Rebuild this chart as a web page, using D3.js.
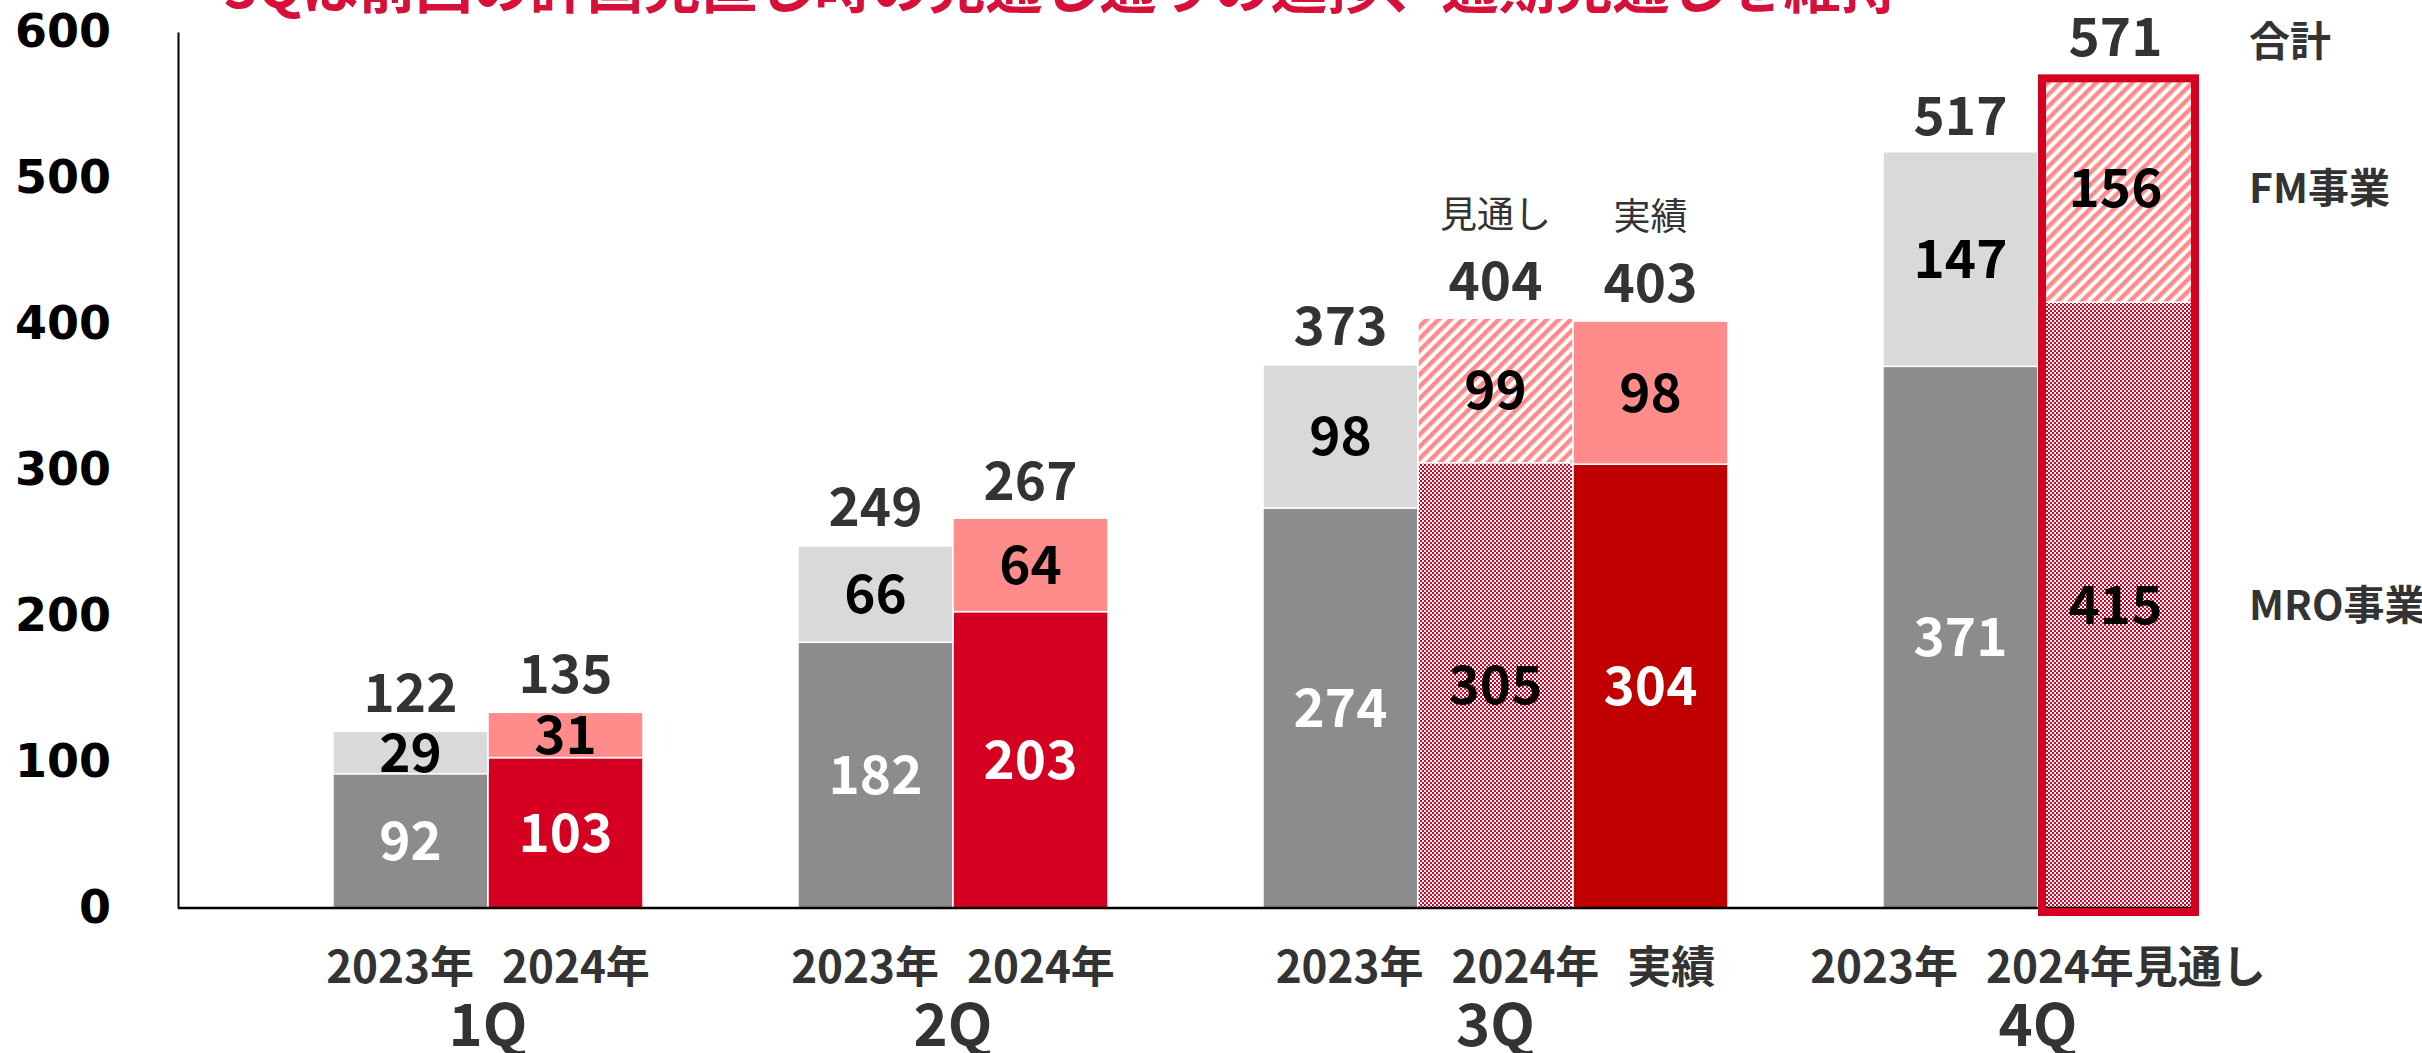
<!DOCTYPE html>
<html>
<head>
<meta charset="utf-8">
<script src="https://cdn.jsdelivr.net/npm/d3@7"></script>
<style>
	body { margin: 0; background: #fff; }
	svg { display: block; }
</style>
</head>
<body>
<svg id="chart"></svg>
<script>
'use strict'

// data
var quarters = ["1Q", "2Q", "3Q", "4Q"];
var barQuarter = ["1Q", "1Q", "2Q", "2Q", "3Q", "3Q", "3Q", "4Q", "4Q"];
var barNames = ["2023年", "2024年", "2023年", "2024年", "2023年", "2024年", "実績", "2023年", "2024年見通し"];
var barKind = ["prev", "actual", "prev", "actual", "prev", "forecast", "actual3Q", "prev", "forecast"];
var mroValues = [92, 103, 182, 203, 274, 305, 304, 371, 415];
var fmValues = [29, 31, 66, 64, 98, 99, 98, 147, 156];
var totalValues = [122, 135, 249, 267, 373, 404, 403, 517, 571];
var barTags = ["", "", "", "", "", "見通し", "実績", "", ""];
var yTicks = [0, 100, 200, 300, 400, 500, 600];
var legendNames = ["合計", "FM事業", "MRO事業"];
var titleText = "3Qは前回の計画見直し時の見通し通りの進捗、通期見通しを維持";

var Main = function () {

	var WIDTH = 2422,
		HEIGHT = 1053;

	var CJK = "'Noto Sans CJK JP', 'Noto Sans', sans-serif";

	var fills = {
		prev: { mro: "#8c8c8c", fm: "#d9d9d9", mroText: "#fff" },
		actual: { mro: "#d50021", fm: "#ff8b8b", mroText: "#fff" },
		actual3Q: { mro: "#c00000", fm: "#ff8b8b", mroText: "#fff" },
		forecast: { mro: "url(#checker)", fm: "url(#stripes)", mroText: "#000" }
	};

	this.initialize = function () {

		var svg = d3.select("#chart")
			.attr("width", WIDTH)
			.attr("height", HEIGHT)

		var defs = svg.append("defs")

		// fine red checker for the forecast MRO part
		var checker = defs.append("pattern")
			.attr("id", "checker")
			.attr("patternUnits", "userSpaceOnUse")
			.attr("width", 4)
			.attr("height", 4)
		checker.append("rect").attr("width", 4).attr("height", 4).style("fill", "#fff")
		checker.append("rect").attr("width", 2).attr("height", 2).style("fill", "#d50021")
		checker.append("rect").attr("x", 2).attr("y", 2).attr("width", 2).attr("height", 2).style("fill", "#d50021")

		// salmon diagonal stripes for the forecast FM part
		var stripes = defs.append("pattern")
			.attr("id", "stripes")
			.attr("patternUnits", "userSpaceOnUse")
			.attr("width", 8.5)
			.attr("height", 8.5)
			.attr("patternTransform", "rotate(45)")
		stripes.append("rect").attr("width", 8.5).attr("height", 8.5).style("fill", "#fff")
		stripes.append("rect").attr("width", 4.4).attr("height", 8.5).style("fill", "#ff8b8b")

		// slots: one empty slot before each quarter, then its bars
		var slotKeys = [];
		quarters.forEach(function (q) {
			slotKeys.push("gap-" + q)
			barQuarter.forEach(function (bq, i) {
				if (bq == q) slotKeys.push("bar-" + i)
			})
		})

		var x = d3.scaleBand()
			.domain(slotKeys)
			.range([178, 2193])
			.padding(0)

		var y = d3.scaleLinear()
			.domain([0, 600])
			.range([908, 32])

		var bw = x.bandwidth();

		var bars = mroValues.map(function (m, i) {
			return {
				i: i,
				x: x("bar-" + i),
				mro: m,
				fm: fmValues[i],
				total: totalValues[i],
				kind: barKind[i],
				name: barNames[i],
				quarter: barQuarter[i],
				tag: barTags[i]
			};
		});

		function quarterCenter(q) {
			var inQ = bars.filter(function (d) { return d.quarter == q; });
			return d3.mean(inQ, function (d) { return d.x + bw / 2; });
		}

		// clipped headline at the very top
		svg.append("text")
			.attr("x", 224)
			.attr("y", 8)
			.style("font-family", CJK)
			.style("font-weight", "bold")
			.style("font-size", "57px")
			.style("fill", "#d7103a")
			.text(titleText)

		// y axis
		var yAxis = svg.append("g")
			.attr("transform", "translate(178,0)")
			.call(d3.axisLeft(y).tickValues(yTicks).tickSize(0).tickPadding(67).tickFormat(d3.format("d")))

		yAxis.select(".domain")
			.style("stroke", "#000")
			.style("stroke-width", 2)

		yAxis.selectAll("text")
			.style("font-family", "'DejaVu Sans', sans-serif")
			.style("font-weight", "bold")
			.style("font-size", "46px")
			.style("fill", "#000")

		// stacked bars
		var g = svg.append("g")

		g.selectAll("rect.mro")
			.data(bars)
			.enter()
			.append("rect")
			.attr("class", "mro")
			.attr("x", function (d) { return d.x; })
			.attr("y", function (d) { return y(d.mro); })
			.attr("width", bw)
			.attr("height", function (d) { return y(0) - y(d.mro); })
			.style("fill", function (d) { return fills[d.kind].mro; })
			.style("stroke", "#fff")
			.style("stroke-width", 1.5)

		g.selectAll("rect.fm")
			.data(bars)
			.enter()
			.append("rect")
			.attr("class", "fm")
			.attr("x", function (d) { return d.x; })
			.attr("y", function (d) { return y(d.mro + d.fm); })
			.attr("width", bw)
			.attr("height", function (d) { return y(d.mro) - y(d.mro + d.fm); })
			.style("fill", function (d) { return fills[d.kind].fm; })
			.style("stroke", "#fff")
			.style("stroke-width", 1.5)

		// baseline
		svg.append("line")
			.attr("x1", 178)
			.attr("x2", 2193)
			.attr("y1", y(0))
			.attr("y2", y(0))
			.style("stroke", "#000")
			.style("stroke-width", 2.5)

		// red frame around the full-year forecast
		var fullYear = bars.filter(function (d) { return d.name == "2024年見通し"; })[0];
		svg.append("rect")
			.attr("x", fullYear.x + 4)
			.attr("y", y(fullYear.total) + 4)
			.attr("width", bw - 2)
			.attr("height", y(0) + 4 - (y(fullYear.total) + 4))
			.style("fill", "none")
			.style("stroke", "#d50021")
			.style("stroke-width", 8)

		// segment labels
		g.selectAll("text.mro")
			.data(bars)
			.enter()
			.append("text")
			.attr("x", function (d) { return d.x + bw / 2; })
			.attr("y", function (d) { return y(d.mro / 2) + 19; })
			.style("text-anchor", "middle")
			.style("font-family", CJK)
			.style("font-weight", "bold")
			.style("font-size", "53px")
			.style("fill", function (d) { return fills[d.kind].mroText; })
			.text(function (d) { return d.mro; })

		g.selectAll("text.fm")
			.data(bars)
			.enter()
			.append("text")
			.attr("x", function (d) { return d.x + bw / 2; })
			.attr("y", function (d) { return y(d.mro + d.fm / 2) + 19; })
			.style("text-anchor", "middle")
			.style("font-family", CJK)
			.style("font-weight", "bold")
			.style("font-size", "53px")
			.style("fill", "#000")
			.text(function (d) { return d.fm; })

		// totals
		g.selectAll("text.total")
			.data(bars)
			.enter()
			.append("text")
			.attr("x", function (d) { return d.x + bw / 2; })
			.attr("y", function (d) { return y(d.total) - 18; })
			.style("text-anchor", "middle")
			.style("font-family", CJK)
			.style("font-weight", "bold")
			.style("font-size", "53px")
			.style("fill", "#333")
			.text(function (d) { return d.total; })

		g.selectAll("text.tag")
			.data(bars.filter(function (d) { return d.tag; }))
			.enter()
			.append("text")
			.attr("x", function (d) { return d.x + bw / 2; })
			.attr("y", function (d) { return y(d.total) - 90; })
			.style("text-anchor", "middle")
			.style("font-family", CJK)
			.style("font-size", "37px")
			.style("fill", "#333")
			.text(function (d) { return d.tag; })

		// category labels under the bars: one row per quarter, centred on it
		var yearText = g.selectAll("text.year")
			.data(bars)
			.enter()
			.append("text")
			.attr("class", "year")
			.attr("y", 983)
			.style("font-family", CJK)
			.style("font-weight", "bold")
			.style("font-size", "44px")
			.style("fill", "#333")
			.text(function (d) { return d.name; })

		var gap = 28;
		quarters.forEach(function (q) {
			var row = yearText.filter(function (d) { return d.quarter == q; });
			var widths = [];
			row.each(function () { widths.push(this.getComputedTextLength()); });
			var total = d3.sum(widths) + gap * (widths.length - 1);
			var left = quarterCenter(q) - total / 2;
			row.attr("x", function (d, k) {
				return left + d3.sum(widths.slice(0, k)) + gap * k;
			})
		})

		g.selectAll("text.quarter")
			.data(quarters)
			.enter()
			.append("text")
			.attr("x", function (q) { return quarterCenter(q); })
			.attr("y", 1046)
			.style("text-anchor", "middle")
			.style("font-family", CJK)
			.style("font-weight", "bold")
			.style("font-size", "58px")
			.style("fill", "#333")
			.text(function (q) { return q; })

		// series names to the right of the last bar
		var legendY = [
			y(fullYear.total) - 18,
			y(fullYear.mro + fullYear.fm / 2) + 15,
			y(fullYear.mro / 2) + 15
		];
		svg.selectAll("text.legend")
			.data(legendNames)
			.enter()
			.append("text")
			.attr("x", fullYear.x + bw + 56)
			.attr("y", function (d, i) { return legendY[i]; })
			.style("font-family", CJK)
			.style("font-weight", "bold")
			.style("font-size", "41px")
			.style("fill", "#333")
			.text(function (d) { return d; })
	}
}

new Main().initialize();
</script>
</body>
</html>
